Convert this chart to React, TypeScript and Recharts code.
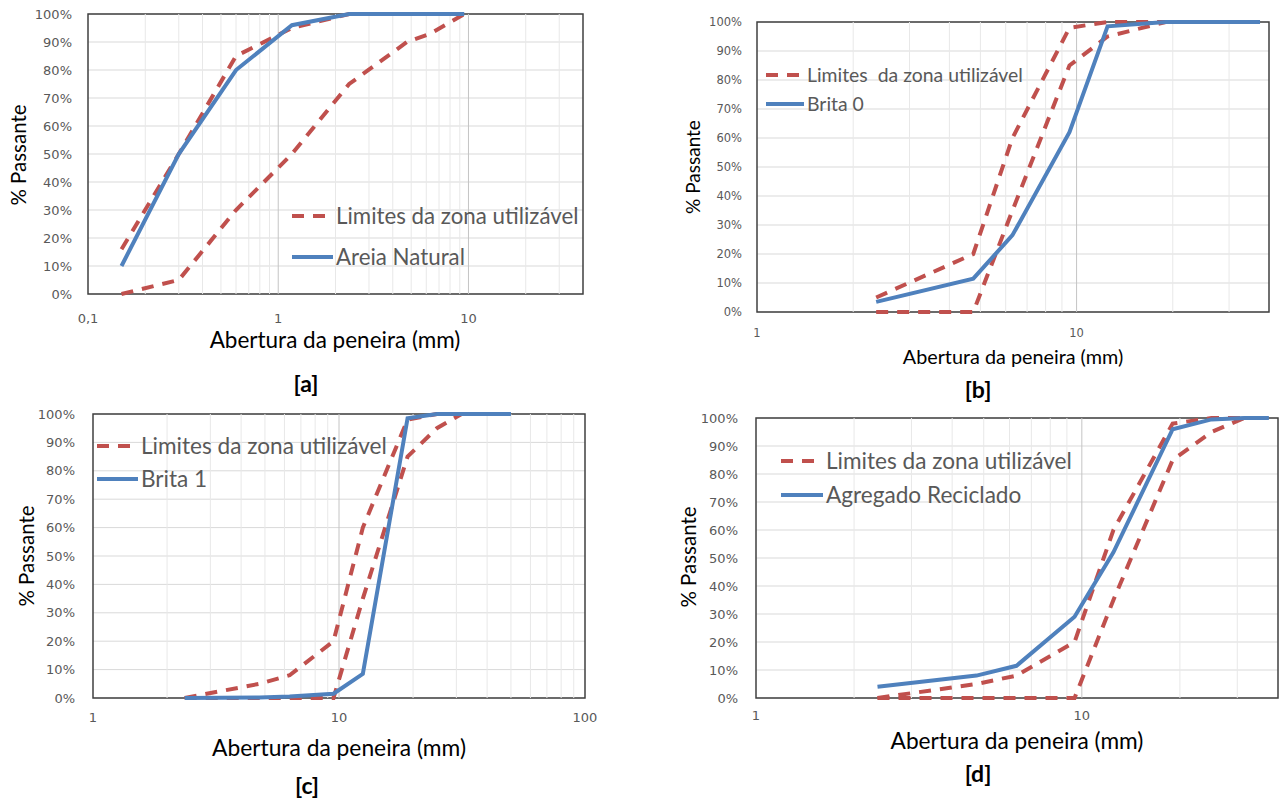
import React from "react";
import { LineChart, Line, XAxis, YAxis, CartesianGrid, ReferenceLine, ReferenceArea } from "recharts";

const BLUE = "#4f81bd";
const RED = "#c0504d";
const GRAY_TEXT = "#595959";
const X_AXIS_H = 30;

const Y_TICKS = [0, 10, 20, 30, 40, 50, 60, 70, 80, 90, 100];

// [a] areia natural (NBR 7211, agregado miúdo)
const SIEVES_A = [0.15, 0.3, 0.6, 1.18, 2.36, 4.75, 6.3, 9.5];
const AREIA_NATURAL = [10, 50, 80, 96, 100, 100, 100, 100];
const LIM_SUP_A = [16, 50, 85, 95, 100, 100, 100, 100];
const LIM_INF_A = [0, 5, 30, 50, 75, 90, 93, 100];

// [b] brita 0 (4,75/12,5)
const SIEVES_B = [2.36, 4.75, 6.3, 9.5, 12.5, 19, 25, 37.5];
const BRITA_0 = [3.5, 11.5, 26.5, 62, 98.5, 100, 100, 100];
const LIMIT_SIEVES_B = [2.36, 4.75, 6.3, 9.5, 12.5, 19];
const LIM_SUP_B = [5, 20, 60, 98, 100, 100];
const LIM_INF_B = [0, 0, 35, 85, 95, 100];

// [c] brita 1 and [d] agregado reciclado share the 9,5/25 zone
const LIMIT_SIEVES_CD = [2.36, 4.75, 6.3, 9.5, 12.5, 19, 25, 31.5];
const LIM_SUP_CD = [0, 5, 8, 20, 60, 98, 100, 100];
const LIM_INF_CD = [0, 0, 0, 0, 35, 85, 95, 100];

const SIEVES_C = [2.36, 4.75, 6.3, 9.5, 12.5, 19, 25, 31.5, 37.5, 50];
const BRITA_1 = [0, 0.2, 0.5, 1.5, 8.5, 98.5, 100, 100, 100, 100];

const SIEVES_D = [2.36, 4.75, 6.3, 9.5, 12.5, 19, 25, 31.5, 37.5];
const AGREGADO_RECICLADO = [4, 8, 11.5, 29, 52, 96, 99.5, 100, 100];

const LIMITS_LABEL = "Limites da zona utilizável";

const toPoints = (xs: number[], ys: number[]) => xs.map((x, i) => ({ x, y: ys[i] }));

type Series = { key: string; name: string; xs: number[]; ys: number[]; color: string; dashed: boolean; inLegend: boolean };

const limits = (xs: number[], sup: number[], inf: number[], label = LIMITS_LABEL): Series[] => [
  { key: "sup", name: label, xs, ys: sup, color: RED, dashed: true, inLegend: true },
  { key: "inf", name: label, xs, ys: inf, color: RED, dashed: true, inLegend: false },
];

const panels = [
  {
    id: "a",
    box: { left: 0, top: 0, width: 600, height: 330 },
    plot: { left: 88, right: 583, top: 14, bottom: 294 },
    domain: [0.1, 40],
    ticks: [0.1, 1, 10],
    minor: [0.2, 0.3, 0.4, 0.5, 0.6, 0.7, 0.8, 0.9, 2, 3, 4, 5, 6, 7, 8, 9, 20, 30],
    major: [1, 10],
    tickSize: 13,
    yTickMargin: 16,
    xTickMargin: 20,
    titleSize: 22.5,
    yTitleSize: 20.5,
    yTitle: { x: 18, y: 155 },
    xTitle: { x: 335, y: 340 },
    caption: { x: 306, y: 383 },
    legend: { x: 292, y: 216, row: 41, icon: 41, size: 22.3 },
    series: [
      ...limits(SIEVES_A, LIM_SUP_A, LIM_INF_A),
      { key: "s", name: "Areia Natural", xs: SIEVES_A, ys: AREIA_NATURAL, color: BLUE, dashed: false, inLegend: true },
    ],
  },
  {
    id: "b",
    box: { left: 660, top: 0, width: 622, height: 350 },
    plot: { left: 757, right: 1269, top: 22, bottom: 312 },
    domain: [1, 40],
    ticks: [1, 10],
    minor: [2, 3, 4, 5, 6, 7, 8, 9, 20, 30],
    major: [10],
    tickSize: 11.5,
    yTickMargin: 15,
    xTickMargin: 17,
    titleSize: 19.8,
    yTitleSize: 19,
    yTitle: { x: 692, y: 167 },
    xTitle: { x: 1013, y: 357 },
    caption: { x: 978, y: 389 },
    legend: { x: 766, y: 75, row: 29, icon: 38, size: 19.4 },
    series: [
      ...limits(LIMIT_SIEVES_B, LIM_SUP_B, LIM_INF_B, "Limites  da zona utilizável"),
      { key: "s", name: "Brita 0", xs: SIEVES_B, ys: BRITA_0, color: BLUE, dashed: false, inLegend: true },
    ],
  },
  {
    id: "c",
    box: { left: 0, top: 400, width: 600, height: 340 },
    plot: { left: 93, right: 585, top: 414, bottom: 698 },
    domain: [1, 100],
    ticks: [1, 10, 100],
    minor: [2, 3, 4, 5, 6, 7, 8, 9, 20, 30, 40, 50, 60, 70, 80, 90],
    major: [10],
    tickSize: 13,
    yTickMargin: 18,
    xTickMargin: 15,
    titleSize: 22.8,
    yTitleSize: 20.5,
    yTitle: { x: 26, y: 556 },
    xTitle: { x: 339, y: 747 },
    caption: { x: 307, y: 785 },
    legend: { x: 97, y: 446, row: 33, icon: 41, size: 22.6 },
    series: [
      ...limits(LIMIT_SIEVES_CD, LIM_SUP_CD, LIM_INF_CD),
      { key: "s", name: "Brita 1", xs: SIEVES_C, ys: BRITA_1, color: BLUE, dashed: false, inLegend: true },
    ],
  },
  {
    id: "d",
    box: { left: 660, top: 400, width: 622, height: 340 },
    plot: { left: 756, right: 1278, top: 418, bottom: 698 },
    domain: [1, 40],
    ticks: [1, 10],
    minor: [2, 3, 4, 5, 6, 7, 8, 9, 20, 30],
    major: [10],
    tickSize: 13,
    yTickMargin: 18,
    xTickMargin: 13,
    titleSize: 22.7,
    yTitleSize: 20.5,
    yTitle: { x: 688, y: 557 },
    xTitle: { x: 1017, y: 741 },
    caption: { x: 978, y: 773 },
    legend: { x: 781, y: 461, row: 34, icon: 42, size: 22.6 },
    series: [
      ...limits(LIMIT_SIEVES_CD, LIM_SUP_CD, LIM_INF_CD),
      { key: "s", name: "Agregado Reciclado", xs: SIEVES_D, ys: AGREGADO_RECICLADO, color: BLUE, dashed: false, inLegend: true },
    ],
  },
];

type PanelCfg = (typeof panels)[number];

const DASH = "12 9";

// Excel-style legend placed inside the plot area, one entry for both limit curves
function PanelLegend({ cfg }: { cfg: PanelCfg }) {
  const { legend } = cfg;
  return (
    <div style={{ position: "absolute", left: legend.x, top: legend.y - legend.row / 2 }}>
      {cfg.series
        .filter((s) => s.inLegend)
        .map((s) => (
          <div key={s.key} style={{ display: "flex", alignItems: "center", height: legend.row }}>
            <svg width={legend.icon} height={8}>
              <line x1={0} y1={4} x2={legend.icon} y2={4} stroke={s.color} strokeWidth={4} strokeDasharray={s.dashed ? DASH : undefined} />
            </svg>
            <span style={{ marginLeft: 3, fontFamily: "Lato", fontSize: legend.size, color: GRAY_TEXT, whiteSpace: "pre", lineHeight: 1 }}>
              {s.name}
            </span>
          </div>
        ))}
    </div>
  );
}

const fmtX = (v: number) => String(v).replace(".", ",");

function GradingPanel({ cfg }: { cfg: PanelCfg }) {
  const { box, plot, domain } = cfg;
  const margin = {
    top: plot.top - box.top,
    right: box.left + box.width - plot.right,
    left: 0,
    bottom: box.top + box.height - plot.bottom - X_AXIS_H,
  };
  const tick = { fill: GRAY_TEXT, fontSize: cfg.tickSize, fontFamily: "DejaVu Sans" };
  return (
    <div style={{ position: "absolute", left: box.left, top: box.top }}>
      <LineChart width={box.width} height={box.height} margin={margin}>
        <CartesianGrid vertical={false} stroke="#d9d9d9" />
        {cfg.minor.map((v) => (
          <ReferenceLine key={`m${v}`} x={v} stroke="#e8e8e8" />
        ))}
        {cfg.major.map((v) => (
          <ReferenceLine key={`M${v}`} x={v} stroke="#c4c4c4" />
        ))}
        <XAxis
          dataKey="x"
          type="number"
          scale="log"
          domain={domain}
          ticks={cfg.ticks}
          interval={0}
          tickFormatter={fmtX}
          axisLine={false}
          tickLine={false}
          tickSize={0}
          tickMargin={cfg.xTickMargin}
          height={X_AXIS_H}
          tick={tick}
        />
        <YAxis
          type="number"
          domain={[0, 100]}
          ticks={Y_TICKS}
          interval={0}
          tickFormatter={(v: number) => `${v}%`}
          axisLine={false}
          tickLine={false}
          tickSize={0}
          tickMargin={cfg.yTickMargin}
          width={plot.left - box.left}
          tick={tick}
        />
        <ReferenceArea x1={domain[0]} x2={domain[1]} y1={0} y2={100} fill="none" stroke="#404040" strokeWidth={1.5} />
        {cfg.series.map((s) => (
          <Line
            key={s.key}
            data={toPoints(s.xs, s.ys)}
            dataKey="y"
            name={s.name}
            type="linear"
            stroke={s.color}
            strokeWidth={4}
            strokeDasharray={s.dashed ? DASH : undefined}
            dot={false}
            activeDot={false}
            legendType={s.inLegend ? "line" : "none"}
            isAnimationActive={false}
          />
        ))}
      </LineChart>
    </div>
  );
}

const centered = (x: number, y: number): React.CSSProperties => ({
  position: "absolute",
  left: x,
  top: y,
  transform: "translate(-50%, -50%)",
  whiteSpace: "nowrap",
  lineHeight: 1,
});

export default function App() {
  return (
    <div style={{ position: "absolute", left: 0, top: 0, width: 1282, height: 803, background: "#fff", overflow: "hidden" }}>
      {panels.map((cfg) => (
        <React.Fragment key={cfg.id}>
          <GradingPanel cfg={cfg} />
          <PanelLegend cfg={cfg} />
          <div style={{ ...centered(cfg.yTitle.x, cfg.yTitle.y), transform: "translate(-50%, -50%) rotate(-90deg)", fontFamily: "Lato", fontSize: cfg.yTitleSize, color: "#000" }}>
            % Passante
          </div>
          <div style={{ ...centered(cfg.xTitle.x, cfg.xTitle.y), fontFamily: "Lato", fontSize: cfg.titleSize, color: "#000" }}>
            Abertura da peneira (mm)
          </div>
          <div style={{ ...centered(cfg.caption.x, cfg.caption.y), fontFamily: "Lato", fontWeight: 700, fontSize: 23, color: "#000" }}>
            [{cfg.id}]
          </div>
        </React.Fragment>
      ))}
    </div>
  );
}
